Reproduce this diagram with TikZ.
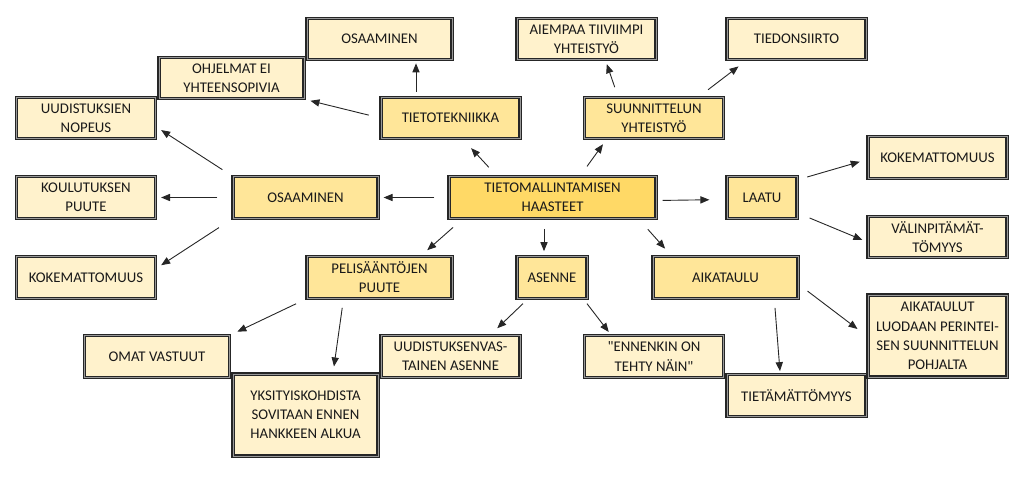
\documentclass[tikz,border=0pt]{standalone}
\usepackage{fontspec}
\setmainfont{Carlito}[Ligatures=TeXOff]
\usetikzlibrary{calc,arrows.meta}
\definecolor{rootfill}{HTML}{FFD966}
\definecolor{topicfill}{HTML}{FFE699}
\definecolor{leaffill}{HTML}{FFF2CC}
\begin{document}
\begin{tikzpicture}[x=0.5pt, y=-0.5pt,
  box/.style={draw=black!85, line width=0.6pt, double=black!40, double distance=0.5pt,
    align=center, inner sep=0pt, minimum height=20.75pt, text=black!90,
    font=\fontsize{7.4}{9.6}\selectfont},
  root/.style={box, fill=rootfill, minimum width=103.5pt},
  topic/.style={box, fill=topicfill},
  leaf/.style={box, fill=leaffill},
  wide/.style={minimum width=72.5pt},
  mid/.style={minimum width=69.5pt},
  small/.style={minimum width=35pt},
  tall/.style={minimum height=41pt},
  arr/.style={-{Triangle[length=4.5pt,width=3.6pt]}, line width=0.45pt, draw=black!85}]
\useasboundingbox (0,0) rectangle (1024,477);
% centre and main themes
\node[root] (haasteet) at (552.5,197.5) {TIETOMALLINTAMISEN\\HAASTEET};
\node[topic, wide] (osaaminen) at (305.5,197.5) {OSAAMINEN};
\node[topic, mid] (tietotekniikka) at (450.5,118) {TIETOTEKNIIKKA};
\node[topic, mid] (suunnittelu) at (654,118) {SUUNNITTELUN\\YHTEISTYÖ};
\node[topic, small] (laatu) at (762,197.5) {LAATU};
\node[topic, wide] (pelisaannot) at (379.5,277.5) {PELISÄÄNTÖJEN\\PUUTE};
\node[topic, small] (asenne) at (552,277.5) {ASENNE};
\node[topic, wide] (aikataulu) at (725.5,277.5) {AIKATAULU};
% leaves
\node[leaf, wide] (osaaminen2) at (379.5,39) {OSAAMINEN};
\node[leaf, wide] (ohjelmat) at (231.5,78) {OHJELMAT EI\\YHTEENSOPIVIA};
\node[leaf, mid] (nopeus) at (86,118) {UUDISTUKSIEN\\NOPEUS};
\node[leaf, mid] (koulutus) at (86,197.5) {KOULUTUKSEN\\PUUTE};
\node[leaf, mid] (kokemat1) at (86,277.5) {KOKEMATTOMUUS};
\node[leaf, mid] (tiiviimpi) at (586.5,39) {AIEMPAA TIIVIIMPI\\YHTEISTYÖ};
\node[leaf, mid] (siirto) at (796.5,39) {TIEDONSIIRTO};
\node[leaf, mid] (kokemat2) at (937.5,157.5) {KOKEMATTOMUUS};
\node[leaf, mid] (valinpit) at (937.5,237) {VÄLINPITÄMÄT-\\TÖMYYS};
\node[leaf, wide] (vastuut) at (157,356.5) {OMAT VASTUUT};
\node[leaf, wide, tall] (yksityis) at (305.5,415) {YKSITYISKOHDISTA\\SOVITAAN ENNEN\\HANKKEEN ALKUA};
\node[leaf, mid] (vastainen) at (450.5,356.5) {UUDISTUKSENVAS-\\TAINEN ASENNE};
\node[leaf, mid] (ennenkin) at (654,356.5) {"ENNENKIN ON\\TEHTY NÄIN"};
\node[leaf, mid] (tietamat) at (796.5,395.5) {TIETÄMÄTTÖMYYS};
\node[leaf, mid, tall] (perinteinen) at (937.5,336) {AIKATAULUT\\LUODAAN PERINTEI-\\SEN SUUNNITTELUN\\POHJALTA};
% arrows from the centre
\draw[arr, shorten <=7pt, shorten >=2.5pt] (haasteet.west) -- (osaaminen.east);
\draw[arr, shorten <=6pt, shorten >=6pt] ($(haasteet.north)+(-55.5,0)$) -- ($(tietotekniikka.south)+(12.5,0)$);
\draw[arr, shorten <=6pt, shorten >=3pt] ($(haasteet.north)+(27.5,0)$) -- ($(suunnittelu.south)+(-47.5,0)$);
\draw[arr, shorten <=3pt, shorten >=8.5pt] ($(haasteet.east)+(0,3)$) -- ($(laatu.west)+(0,2)$);
\draw[arr, shorten <=6.5pt, shorten >=4.5pt] ($(haasteet.south)+(-89.75,0)$) -- ($(pelisaannot.north)+(41,0)$);
\draw[arr, shorten <=5pt, shorten >=2.5pt] ($(haasteet.south)+(-8.5,0)$) -- ($(asenne.north)+(-8,0)$);
\draw[arr, shorten <=7pt, shorten >=5pt] ($(haasteet.south)+(86,0)$) -- ($(aikataulu.north)+(-53.7,0)$);
% arrows from the themes
\draw[arr, shorten <=6pt, shorten >=3pt] (osaaminen.north west) -- ($(nopeus.east)+(0,8.8)$);
\draw[arr, shorten <=7.5pt, shorten >=2.5pt] (osaaminen.west) -- (koulutus.east);
\draw[arr, shorten <=8pt, shorten >=3pt] (osaaminen.south west) -- ($(kokemat1.east)+(0,-9)$);
\draw[arr, shorten <=2.5pt, shorten >=1.5pt] ($(tietotekniikka.north)+(-34.5,0)$) -- ($(osaaminen2.south)+(36.5,0)$);
\draw[arr, shorten <=6pt, shorten >=3pt] (tietotekniikka.west) -- (ohjelmat.south east);
\draw[arr, shorten <=5pt, shorten >=2pt] ($(suunnittelu.north)+(-36,0)$) -- ($(tiiviimpi.south)+(19,0)$);
\draw[arr, shorten <=5.7pt, shorten >=5pt] ($(suunnittelu.north)+(45,0)$) -- ($(siirto.south)+(-50,0)$);
\draw[arr, shorten <=5pt, shorten >=4pt] ($(laatu.east)+(0,-17.7)$) -- ($(kokemat2.west)+(0,2)$);
\draw[arr, shorten <=6.5pt, shorten >=2.7pt] ($(laatu.east)+(0,15.5)$) -- ($(valinpit.west)+(0,5)$);
\draw[arr, shorten <=5.7pt, shorten >=4pt] (pelisaannot.south west) -- (vastuut.north east);
\draw[arr, shorten <=4.5pt, shorten >=3.5pt] ($(pelisaannot.south)+(-36,0)$) -- ($(yksityis.north)+(27.5,0)$);
\draw[arr, shorten <=3.5pt, shorten >=5pt] ($(asenne.south)+(-24,0)$) -- ($(vastainen.north)+(39.5,0)$);
\draw[arr, shorten <=3pt, shorten >=2pt] ($(asenne.south)+(31.3,0)$) -- ($(ennenkin.north)+(-42.8,0)$);
\draw[arr, shorten <=4.5pt, shorten >=1.5pt] ($(aikataulu.south)+(48.8,0)$) -- ($(tietamat.north)+(-16.3,0)$);
\draw[arr, shorten <=5.6pt, shorten >=6.2pt] ($(aikataulu.east)+(0,6.8)$) -- ($(perinteinen.west)+(0,0.5)$);
\end{tikzpicture}
\end{document}
